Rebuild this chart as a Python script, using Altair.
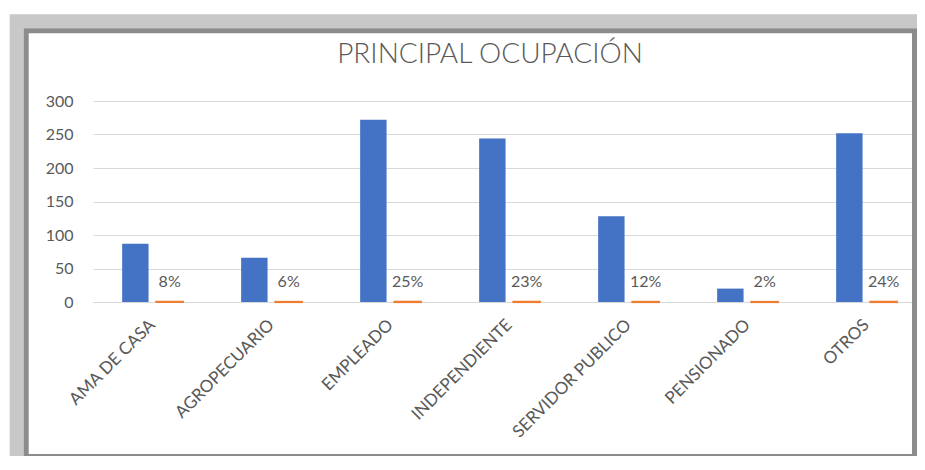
import altair as alt
import pandas as pd

categorias = ["AMA DE CASA", "AGROPECUARIO", "EMPLEADO", "INDEPENDIENTE",
              "SERVIDOR PUBLICO", "PENSIONADO", "OTROS"]
cantidad = [87, 66, 272, 244, 128, 20, 252]
porcentaje = [0.08, 0.06, 0.25, 0.23, 0.12, 0.02, 0.24]
series = ["Cantidad", "Porcentaje"]
colores = ["#4472C4", "#ED7D31"]
y_ticks = [0, 50, 100, 150, 200, 250, 300]

rows = []
for c, n, p in zip(categorias, cantidad, porcentaje):
    rows.append({"cat": c, "serie": "Cantidad", "valor": n})
    rows.append({"cat": c, "serie": "Porcentaje", "valor": p})
df = pd.DataFrame(rows)

FONT = "Lato"
TXT = "#595959"

x_enc = alt.X("cat:N", sort=categorias,
              scale=alt.Scale(range=[0, 833], paddingInner=0.49, paddingOuter=0.245),
              axis=alt.Axis(title=None, labelAngle=-45, labelAlign="right",
                            labelBaseline="middle", labelPadding=20,
                            labelFont=FONT, labelFontSize=17, labelColor=TXT,
                            ticks=False, domainColor="#d9d9d9", labelOverlap=False,
                            labelLimit=0))
xo_enc = alt.XOffset("serie:N", sort=series, scale=alt.Scale(paddingInner=0.23))
y_enc = alt.Y("valor:Q", scale=alt.Scale(domain=[0, 300], nice=False),
              axis=alt.Axis(title=None, values=y_ticks, ticks=False, domain=False,
                            labelFont=FONT, labelFontSize=16, labelColor=TXT,
                            labelPadding=20, gridColor="#d9d9d9", gridWidth=1,
                            labelOverlap=False))

base = alt.Chart(df)

bars = base.mark_bar().encode(
    x=x_enc, xOffset=xo_enc, y=y_enc,
    color=alt.Color("serie:N", scale=alt.Scale(domain=series, range=colores), legend=None),
    stroke=alt.Stroke("serie:N", scale=alt.Scale(domain=series, range=colores), legend=None),
    strokeWidth=alt.condition("datum.serie == 'Porcentaje'", alt.value(2.2), alt.value(0)),
)

labels = base.transform_filter("datum.serie == 'Porcentaje'").mark_text(
    font=FONT, fontSize=16, color=TXT, baseline="alphabetic", align="center", dy=-15
).encode(
    x=x_enc, xOffset=xo_enc, y=y_enc,
    text=alt.Text("valor:Q", format=".0%"),
)

frame_df = pd.DataFrame({"k": [0]})
mid = alt.Chart(frame_df).mark_rect(fill=None, stroke="#c8c8c8", strokeWidth=14).encode(
    x=alt.value(-76.3), x2=alt.value(840), y=alt.value(-79.7), y2=alt.value(364.3))
dark = alt.Chart(frame_df).mark_rect(fill=None, stroke="#8c8c8c", strokeWidth=5).encode(
    x=alt.value(-66.8), x2=alt.value(821.5), y=alt.value(-70.2), y2=alt.value(355.5))

chart = alt.layer(bars, labels, mid, dark).properties(
    width=824, height=201,
    title=alt.TitleParams("PRINCIPAL OCUPACIÓN", font=FONT, fontSize=28,
                          fontWeight=300, color=TXT, anchor="middle", frame="group",
                          baseline="alphabetic", offset=0, dy=77, dx=-15),
    autosize=alt.AutoSizeParams(type="none"),
    padding={"left": 85, "top": 93, "right": 0, "bottom": 154},
    background="white",
).configure_view(stroke=None)

chart.save("out.html", embed_options={"renderer": "svg", "actions": False})
